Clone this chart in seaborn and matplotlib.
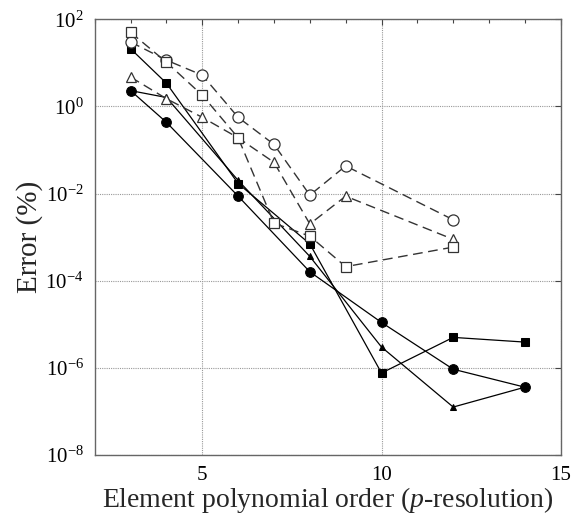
import numpy as np
import pandas as pd
import matplotlib
matplotlib.use("Agg")
import matplotlib.pyplot as plt
import matplotlib.ticker as mticker
import seaborn as sns

# Data
# solid series (filled markers)
x_fsq = [3, 4, 6, 8, 10, 12, 14]
y_fsq = [21.0, 3.4, 0.017, 7.0e-4, 7.6e-7, 5.0e-6, 3.9e-6]

x_fci = [3, 4, 6, 8, 10, 12, 14]
y_fci = [2.3, 0.43, 0.0087, 1.6e-4, 1.1e-5, 9.3e-7, 3.6e-7]

x_ftr = [3, 4, 6, 8, 10, 12, 14]
y_ftr = [2.3, 1.6, 0.020, 3.6e-4, 3.0e-6, 1.26e-7, 3.6e-7]

# dashed series (open markers)
x_oci = [3, 4, 5, 6, 7, 8, 9, 12]
y_oci = [30.0, 11.5, 5.2, 0.56, 0.134, 0.0092, 0.043, 0.0025]

x_otr = [3, 4, 5, 6, 7, 8, 9, 12]
y_otr = [4.7, 1.5, 0.56, 0.19, 0.052, 0.0020, 0.0087, 8.9e-4]

x_osq = [3, 4, 5, 6, 7, 8, 9, 12]
y_osq = [50.0, 10.3, 1.8, 0.19, 0.0021, 0.00105, 2.1e-4, 5.9e-4]

x_ticks = [5, 10, 15]
y_ticks = [1e-8, 1e-6, 1e-4, 1e-2, 1e0, 1e2]

sns.set_style("white")
plt.rcParams["font.family"] = ["Liberation Serif", "DejaVu Serif"]
plt.rcParams["mathtext.fontset"] = "custom"
plt.rcParams["mathtext.rm"] = "Liberation Serif"
plt.rcParams["mathtext.it"] = "Liberation Serif:italic"

fig = plt.figure(figsize=(5.71, 5.20), dpi=100)
ax = fig.add_axes([0.166, 0.125, 0.816, 0.838])

dash = (0, (7, 4))
solid_kw = dict(color="black", linewidth=0.9, linestyle="-")
dash_kw = dict(color="#333333", linewidth=1.0, linestyle=dash)

sns.lineplot(x=x_fsq, y=y_fsq, ax=ax, marker="s", markersize=6,
             markerfacecolor="black", markeredgecolor="black", **solid_kw)
sns.lineplot(x=x_fci, y=y_fci, ax=ax, marker="o", markersize=7,
             markerfacecolor="black", markeredgecolor="black", **solid_kw)
sns.lineplot(x=x_ftr, y=y_ftr, ax=ax, marker="^", markersize=5,
             markerfacecolor="black", markeredgecolor="black", **solid_kw)

sns.lineplot(x=x_oci, y=y_oci, ax=ax, marker="o", markersize=8,
             markerfacecolor="white", markeredgecolor="#333333",
             markeredgewidth=0.9, **dash_kw)
sns.lineplot(x=x_otr, y=y_otr, ax=ax, marker="^", markersize=7,
             markerfacecolor="white", markeredgecolor="#333333",
             markeredgewidth=0.9, **dash_kw)
sns.lineplot(x=x_osq, y=y_osq, ax=ax, marker="s", markersize=6.5,
             markerfacecolor="white", markeredgecolor="#333333",
             markeredgewidth=0.9, **dash_kw)

ax.set_yscale("log")
ax.set_xlim(2, 15)
ax.set_ylim(1e-8, 1e2)
ax.set_xticks(x_ticks)
ax.xaxis.set_minor_locator(mticker.MultipleLocator(1))
ax.set_yticks(y_ticks)
ax.yaxis.set_minor_locator(mticker.NullLocator())
ax.yaxis.set_major_formatter(mticker.FuncFormatter(
    lambda v, p: r"$\mathrm{10^{%d}}$" % int(round(np.log10(v)))))

ax.grid(True, which="major", color="#999999", linestyle=(0, (1, 1)), linewidth=0.8)
ax.tick_params(axis="both", which="both", direction="in", top=True, right=True,
               labelsize=15, colors="#444444", labelcolor="black")
ax.tick_params(which="major", length=4, width=0.8)
ax.tick_params(which="minor", length=3, width=0.8)
ax.tick_params(axis="x", pad=8)
ax.tick_params(axis="y", pad=8)
for s in ax.spines.values():
    s.set_color("#666666")
    s.set_linewidth(1.0)

ax.set_xlabel(r"Element polynomial order ($\mathit{p}$-resolution)", fontsize=20, labelpad=0)
ax.set_ylabel("Error (%)", fontsize=21, labelpad=2)

fig.savefig("out.png", dpi=100)
